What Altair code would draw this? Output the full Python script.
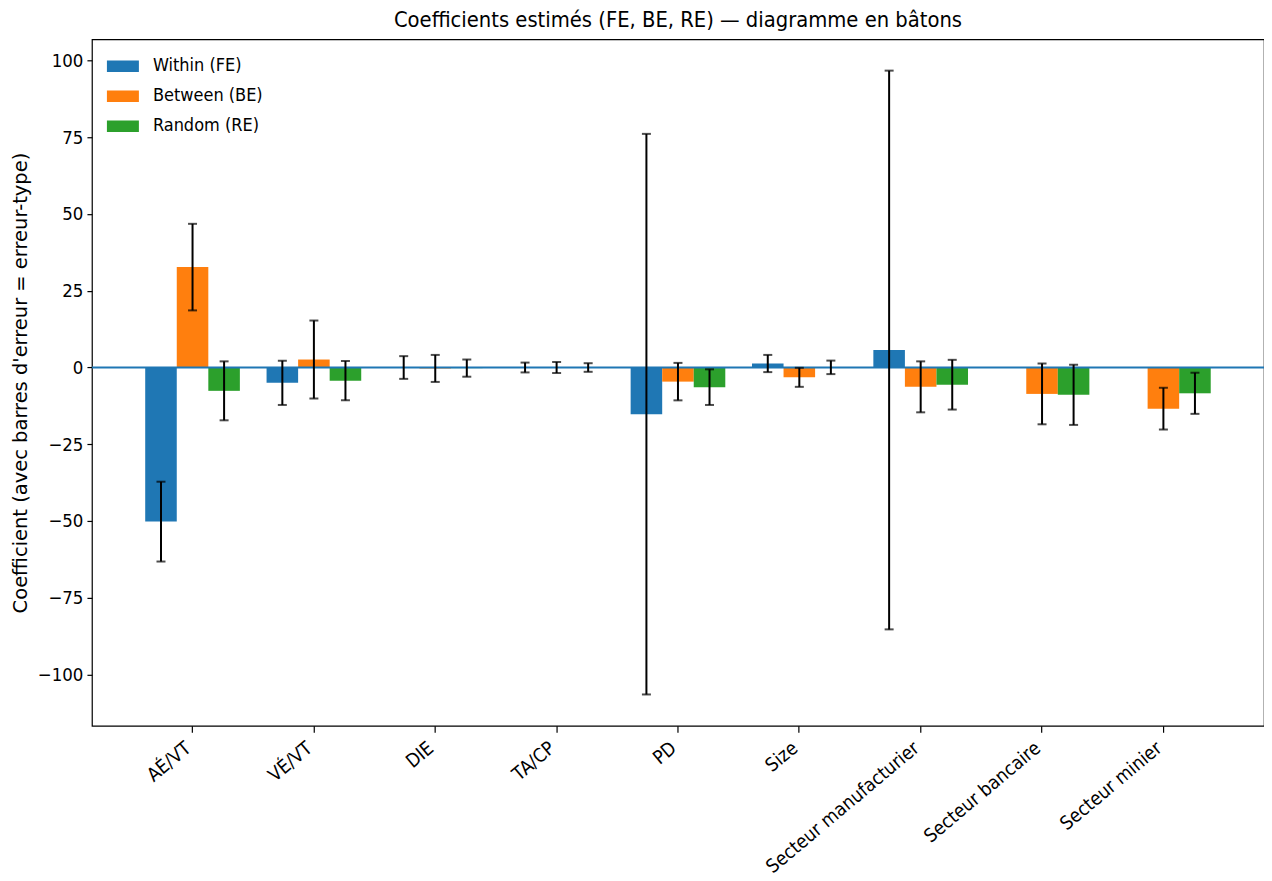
import altair as alt
import pandas as pd

categories = ["AÉ/VT", "VÉ/VT", "DIE", "TA/CP", "PD", "Size",
              "Secteur manufacturier", "Secteur bancaire", "Secteur minier"]
models = ["Within (FE)", "Between (BE)", "Random (RE)"]
colors = ["#1f77b4", "#ff7f0e", "#2ca02c"]

fe_coef = [-50.2, -5.0, 0.0, 0.0, -15.2, 1.3, 5.7, None, None]
fe_se = [13.0, 7.2, 3.7, 1.6, 91.3, 2.8, 91.0, None, None]
be_coef = [32.7, 2.6, -0.3, 0.0, -4.6, -3.2, -6.3, -8.6, -13.4]
be_se = [14.1, 12.7, 4.4, 1.8, 6.1, 3.1, 8.3, 9.9, 6.8]
re_coef = [-7.6, -4.3, -0.2, 0.0, -6.4, 0.05, -5.6, -8.9, -8.4]
re_se = [9.6, 6.4, 2.8, 1.4, 5.8, 2.2, 8.1, 9.8, 6.7]

rows = []
for model, coefs, ses in zip(models, [fe_coef, be_coef, re_coef], [fe_se, be_se, re_se]):
    for cat, c, s in zip(categories, coefs, ses):
        if c is None:
            continue
        rows.append({"variable": cat, "model": model, "coef": c, "se": s})
df = pd.DataFrame(rows)
zero_df = pd.DataFrame({"y": [0]})

FONT = "DejaVu Sans Condensed, DejaVu Sans"

x_enc = alt.X("variable:N", sort=categories,
              scale=alt.Scale(paddingInner=0.22, paddingOuter=0.439),
              axis=alt.Axis(title=None, labelAngle=-40, labelAlign="right", labelBaseline="top",
                            labelFontSize=19, labelFont=FONT, labelColor="black",
                            labelLimit=0, labelOffset=-10,
                            tickSize=6.5, tickColor="black", tickWidth=1.2,
                            labelPadding=6, domain=False, grid=False))
xoff = alt.XOffset("model:N", sort=models, scale=alt.Scale(paddingInner=0, paddingOuter=0))
y_scale = alt.Scale(domain=[-116.7, 106.9], nice=False, zero=False)

base = alt.Chart(df)

bars = base.mark_bar(opacity=1).encode(
    x=x_enc,
    xOffset=xoff,
    y=alt.Y("coef:Q", scale=y_scale,
            axis=alt.Axis(title="Coefficient (avec barres d'erreur = erreur-type)",
                          values=[-100, -75, -50, -25, 0, 25, 50, 75, 100],
                          labelFontSize=18.5, labelFont=FONT, labelColor="black",
                          titleFont="DejaVu Sans", titleFontSize=19.5, titleFontWeight="normal",
                          titleColor="black", titlePadding=7,
                          tickSize=5, tickColor="black", tickWidth=1.2, labelPadding=4,
                          domain=False, grid=False)),
    color=alt.Color("model:N", sort=models,
                    scale=alt.Scale(domain=models, range=colors),
                    legend=alt.Legend(title=None, orient="none", legendX=21, legendY=17,
                                      symbolType="M-1.6,-0.58H1.6V0.58H-1.6Z",
                                      symbolSize=400, symbolStrokeWidth=0,
                                      labelFont=FONT, labelFontSize=18, labelColor="black",
                                      labelOffset=20, rowPadding=11, padding=0)),
)

zero = alt.Chart(zero_df).mark_rule(color="#1f77b4", strokeWidth=1.8).encode(y=alt.Y("y:Q", scale=y_scale))

err = base.transform_calculate(lo="datum.coef - datum.se", hi="datum.coef + datum.se")

err_rule = err.mark_rule(color="black", strokeWidth=2).encode(
    x=x_enc, xOffset=xoff, y=alt.Y("lo:Q", scale=y_scale), y2="hi:Q")
cap_lo = err.mark_tick(color="black", thickness=2, size=9).encode(
    x=x_enc, xOffset=xoff, y=alt.Y("lo:Q", scale=y_scale))
cap_hi = err.mark_tick(color="black", thickness=2, size=9).encode(
    x=x_enc, xOffset=xoff, y=alt.Y("hi:Q", scale=y_scale))

chart = alt.layer(bars, zero, err_rule, cap_lo, cap_hi).properties(
    width=1173, height=687,
    background="white",
    title=alt.TitleParams("Coefficients estimés (FE, BE, RE) — diagramme en bâtons",
                          font=FONT, fontSize=21.8, fontWeight="normal", color="black",
                          anchor="middle", offset=8),
    autosize=alt.AutoSizeParams(type="none"),
    padding={"left": 84, "top": 31, "right": 0, "bottom": 150},
).configure_view(stroke="black", strokeWidth=1.2)

chart.save("out.html", embed_options={"renderer": "svg", "actions": False})
